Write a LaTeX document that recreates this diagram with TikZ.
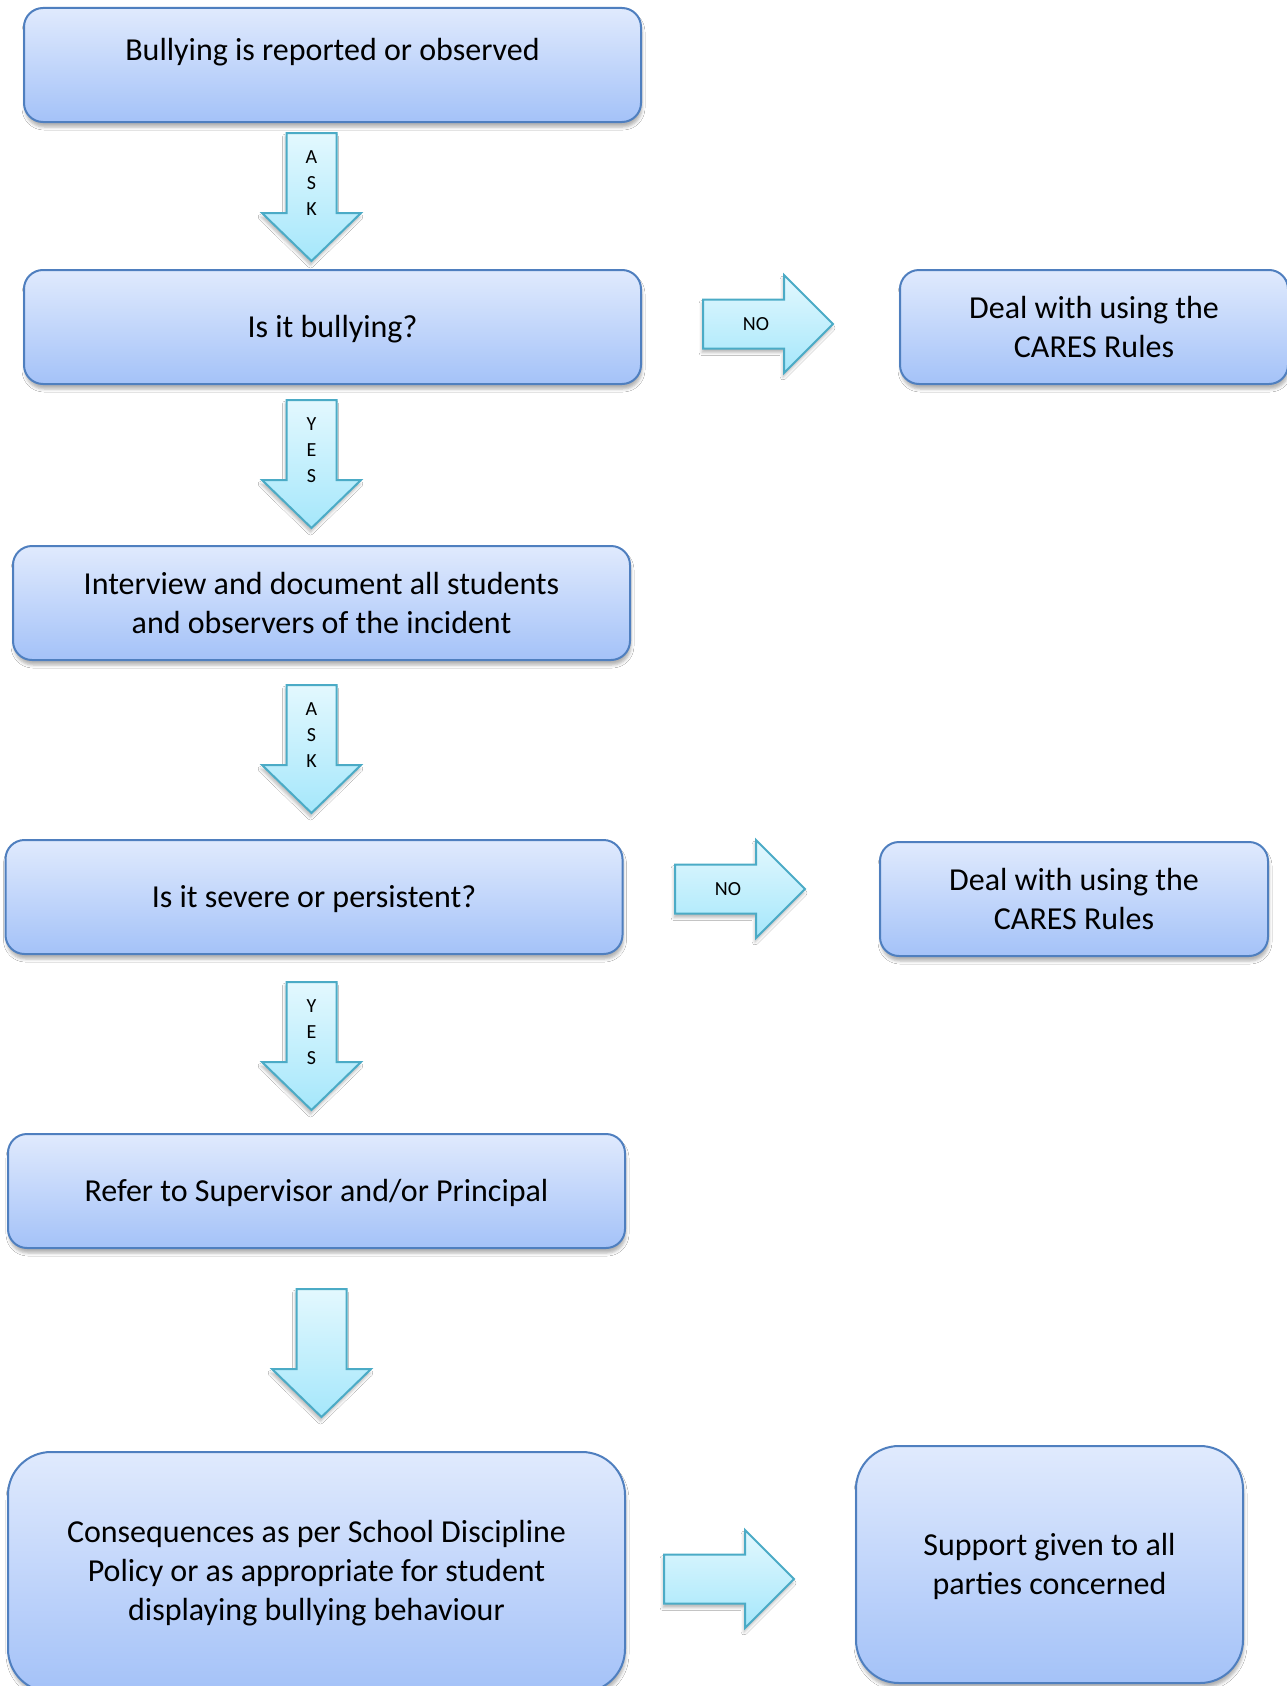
\documentclass[tikz,border=0pt]{standalone}
\usepackage{fontspec}
\setmainfont{Carlito}
\usetikzlibrary{shadows.blur}

\definecolor{boxtop}{HTML}{E0EAFD}
\definecolor{boxbottom}{HTML}{A4C2F8}
\definecolor{boxline}{HTML}{4F7FBF}
\definecolor{arrowtop}{HTML}{E3F8FE}
\definecolor{arrowbottom}{HTML}{A5E7FB}
\definecolor{arrowline}{HTML}{4BABC6}

\tikzset{
    stepbox/.style = {draw=boxline, line width=2pt, rounded corners=19pt,
        top color=boxtop, bottom color=boxbottom, align=center,
        minimum width=617pt, minimum height=114pt, inner sep=0pt,
        font=\fontsize{32}{39}\selectfont,
        blur shadow={shadow xshift=1pt, shadow yshift=-5pt, shadow blur radius=3pt, shadow opacity=30}},
    oneline/.style = {text height=23pt, text depth=1.5pt},
    sidebox/.style = {stepbox, minimum width=388pt},
    bigbox/.style = {stepbox, rounded corners=43pt, minimum height=240pt},
    arrowbody/.style = {draw=arrowline, line width=2pt, line join=miter,
        top color=arrowtop, bottom color=arrowbottom,
        blur shadow={shadow xshift=-1pt, shadow yshift=-4pt, shadow blur radius=3pt, shadow opacity=28}},
    arrowtext/.style = {align=center, inner sep=0pt, font=\fontsize{20}{26}\selectfont},
    pics/downblock/.style = {code={
        \path[arrowbody] (-25,0) -- (25,0) -- (25,80) -- (49.5,80) -- (0,128)
            -- (-49.5,80) -- (-25,80) -- cycle;
        \node[arrowtext] at (0,50) {#1};
    }},
    pics/rightblock/.style = {code={
        \path[arrowbody] (0,-24.5) -- (81,-24.5) -- (81,-49) -- (130,0)
            -- (81,49) -- (81,24.5) -- (0,24.5) -- cycle;
        \node[arrowtext] at (53,0) {#1};
    }}
}

\begin{document}
\begin{tikzpicture}[x=1pt, y=-1pt]
    \clip (0,0) rectangle (1287,1686);
    \fill[white] (0,0) rectangle (1287,1686);

    % Main column
    \node[stepbox, text height=20pt, text depth=29.5pt] (report) at (332.5,65) {Bullying is reported or observed};
    \node[stepbox, oneline] (bullying) at (332.5,327) {Is it bullying?};
    \node[stepbox] (interview) at (321.5,603) {Interview and document all students\\and observers of the incident};
    \node[stepbox, oneline] (severe) at (314,897) {Is it severe or persistent?};
    \node[stepbox, oneline] (refer) at (316.5,1191) {Refer to Supervisor and/or Principal};
    \node[bigbox, text height=102pt] (consequences) at (316.5,1572) {Consequences as per School Discipline\\Policy or as appropriate for student\\displaying bullying behaviour};

    % Side boxes
    \node[sidebox] (cares1) at (1094,327) {Deal with using the\\CARES Rules};
    \node[sidebox] (cares2) at (1074,899) {Deal with using the\\CARES Rules};
    \node[bigbox, minimum width=387pt, minimum height=237pt, text height=65pt] (support) at (1049.5,1564.5) {Support given to all\\parties concerned};

    % Down arrows
    \pic at (311.5,133) {downblock={A\\S\\K}};
    \pic at (311.5,400) {downblock={Y\\E\\S}};
    \pic at (311.5,685) {downblock={A\\S\\K}};
    \pic at (311.5,982) {downblock={Y\\E\\S}};
    \pic at (321.5,1289) {downblock={}};

    % Right arrows
    \pic at (703,324) {rightblock={NO}};
    \pic at (675,889) {rightblock={NO}};
    \pic at (664,1579) {rightblock={}};
\end{tikzpicture}
\end{document}
